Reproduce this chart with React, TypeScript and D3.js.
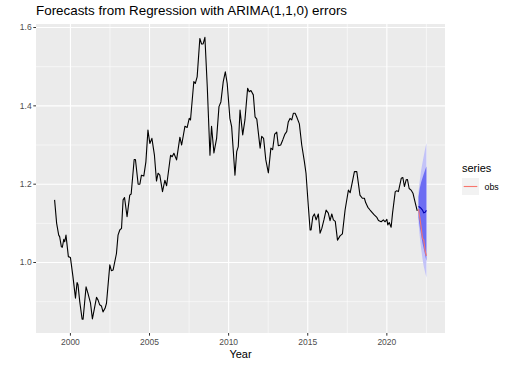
import React from "react";
import * as d3 from "d3";

const histTime = [
  1999.0, 1999.13, 1999.26, 1999.32, 1999.43, 1999.49, 1999.58, 1999.64, 1999.72, 1999.87,
  2000.0, 2000.16, 2000.32, 2000.42, 2000.48, 2000.59, 2000.74, 2000.8, 2000.99, 2001.11,
  2001.27, 2001.39, 2001.5, 2001.65, 2001.75, 2001.85, 2001.96, 2002.06, 2002.19, 2002.28,
  2002.49, 2002.59, 2002.7, 2002.91, 2003.01, 2003.12, 2003.23, 2003.33, 2003.42, 2003.58,
  2003.75, 2003.84, 2004.03, 2004.11, 2004.28, 2004.39, 2004.49, 2004.64, 2004.77, 2004.9,
  2005.02, 2005.15, 2005.31, 2005.44, 2005.54, 2005.65, 2005.82, 2005.97, 2006.08, 2006.33,
  2006.43, 2006.54, 2006.71, 2006.92, 2007.03, 2007.24, 2007.38, 2007.51, 2007.59, 2007.8,
  2007.89, 2008.01, 2008.18, 2008.29, 2008.39, 2008.5, 2008.65, 2008.82, 2008.92, 2009.07,
  2009.24, 2009.39, 2009.51, 2009.66, 2009.79, 2009.91, 2010.08, 2010.19, 2010.4, 2010.51,
  2010.61, 2010.72, 2010.89, 2011.03, 2011.2, 2011.3, 2011.41, 2011.56, 2011.67, 2011.78,
  2011.99, 2012.09, 2012.21, 2012.35, 2012.51, 2012.67, 2012.78, 2012.91, 2013.04, 2013.14,
  2013.29, 2013.42, 2013.56, 2013.67, 2013.77, 2013.88, 2013.99, 2014.09, 2014.2, 2014.3,
  2014.47, 2014.62, 2014.79, 2014.89, 2015.04, 2015.15, 2015.21, 2015.32, 2015.42, 2015.53,
  2015.67, 2015.78, 2015.89, 2016.03, 2016.16, 2016.3, 2016.41, 2016.52, 2016.62, 2016.74,
  2016.88, 2017.04, 2017.19, 2017.36, 2017.57, 2017.68, 2017.82, 2017.95, 2018.1, 2018.2,
  2018.3, 2018.45, 2018.58, 2018.66, 2018.8, 2018.94, 2019.09, 2019.22, 2019.37, 2019.47,
  2019.64, 2019.78, 2019.89, 2020.0, 2020.06, 2020.15, 2020.27, 2020.36, 2020.53, 2020.63,
  2020.73, 2020.91, 2021.01, 2021.11, 2021.22, 2021.3, 2021.41, 2021.53, 2021.65, 2021.75,
  2021.92,
];
const histValue = [
  1.16, 1.1, 1.07, 1.066, 1.04, 1.039, 1.059, 1.053, 1.07, 1.015,
  1.013, 0.964, 0.909, 0.949, 0.943, 0.9, 0.855, 0.855, 0.938, 0.921,
  0.896, 0.856, 0.879, 0.911, 0.904, 0.892, 0.889, 0.874, 0.883, 0.896,
  0.994, 0.979, 0.981, 1.023, 1.07, 1.083, 1.087, 1.16, 1.166, 1.117,
  1.172, 1.175, 1.263, 1.263, 1.2, 1.2, 1.223, 1.221, 1.257, 1.338,
  1.304, 1.317, 1.274, 1.208, 1.228, 1.223, 1.181, 1.21, 1.196, 1.274,
  1.27, 1.279, 1.262, 1.32, 1.3, 1.348, 1.345, 1.368, 1.364, 1.462,
  1.457, 1.474, 1.572, 1.558, 1.558, 1.575, 1.449, 1.274, 1.348, 1.28,
  1.317, 1.398, 1.41, 1.462, 1.487, 1.457, 1.368, 1.347, 1.223, 1.283,
  1.296, 1.389, 1.326, 1.364, 1.445, 1.436, 1.439, 1.428, 1.372, 1.366,
  1.292, 1.322, 1.317, 1.262, 1.229, 1.292, 1.288, 1.328, 1.333, 1.298,
  1.3, 1.313, 1.328, 1.334, 1.359, 1.368, 1.364, 1.381, 1.381, 1.372,
  1.354, 1.3, 1.257, 1.228, 1.142, 1.083, 1.083, 1.117, 1.124, 1.109,
  1.124, 1.075, 1.087, 1.11, 1.134, 1.126, 1.107, 1.124, 1.109, 1.105,
  1.057, 1.068, 1.073, 1.134, 1.185, 1.178, 1.206, 1.232, 1.232, 1.202,
  1.172, 1.164, 1.164, 1.153, 1.141, 1.134, 1.127, 1.121, 1.115, 1.107,
  1.104, 1.109, 1.104, 1.11, 1.096, 1.102, 1.09, 1.126, 1.181, 1.183,
  1.181, 1.215, 1.217, 1.194, 1.211, 1.212, 1.189, 1.185, 1.177, 1.16,
  1.132,
];

const fcTime = [2022.0, 2022.083, 2022.167, 2022.25, 2022.333, 2022.417, 2022.5];
const fcMean = [1.143, 1.141, 1.138, 1.134, 1.127, 1.128, 1.133];
const fcLo80 = [1.115, 1.09, 1.07, 1.05, 1.035, 1.02, 1.004];
const fcHi80 = [1.168, 1.19, 1.205, 1.216, 1.226, 1.236, 1.245];
const fcLo95 = [1.1, 1.065, 1.035, 1.01, 0.99, 0.975, 0.962];
const fcHi95 = [1.18, 1.21, 1.235, 1.255, 1.272, 1.29, 1.305];
const obsValue = [1.136, 1.115, 1.09, 1.062, 1.057, 1.03, 1.017];

const xTicks = [2000, 2005, 2010, 2015, 2020];
const xMinor = [2002.5, 2007.5, 2012.5, 2017.5, 2022.5];
const yTicks = [1.0, 1.2, 1.4, 1.6];
const yMinor = [0.9, 1.1, 1.3, 1.5];

const titleText = "Forecasts from Regression with ARIMA(1,1,0) errors";
const xTitle = "Year";
const legendTitle = "series";
const legendLabels = ["obs"];

export default function App() {
  const W = 511, H = 366;
  const left = 36, right = 445, top = 24, bottom = 333;
  const x = d3.scaleLinear().domain([1997.825, 2023.675]).range([left, right]);
  const y = d3.scaleLinear().domain([0.82, 1.609]).range([bottom, top]);

  const hist = histTime.map((t, i) => [t, histValue[i]] as [number, number]);
  const lineGen = d3.line<[number, number]>().x((d) => x(d[0])).y((d) => y(d[1]));
  const band95 = d3
    .area<number>()
    .x((_, i) => x(fcTime[i]))
    .y0((_, i) => y(fcLo95[i]))
    .y1((_, i) => y(fcHi95[i]))(fcTime);
  const band80 = d3
    .area<number>()
    .x((_, i) => x(fcTime[i]))
    .y0((_, i) => y(fcLo80[i]))
    .y1((_, i) => y(fcHi80[i]))(fcTime);
  const meanPath = lineGen(fcTime.map((t, i) => [t, fcMean[i]] as [number, number]));
  const obsPath = lineGen(fcTime.map((t, i) => [t, obsValue[i]] as [number, number]));

  const font = "Liberation Sans, Arial, Helvetica, sans-serif";

  return (
    <svg
      width={W}
      height={H}
      style={{ position: "absolute", left: 0, top: 0, background: "#fff" }}
      fontFamily={font}
    >
      <rect x={left} y={top} width={right - left} height={bottom - top} fill="#EBEBEB" />
      {yMinor.map((v) => (
        <line key={"ym" + v} x1={left} x2={right} y1={y(v)} y2={y(v)} stroke="#fff" strokeWidth={0.55} />
      ))}
      {xMinor.map((v) => (
        <line key={"xm" + v} y1={top} y2={bottom} x1={x(v)} x2={x(v)} stroke="#fff" strokeWidth={0.55} />
      ))}
      {yTicks.map((v) => (
        <line key={"yM" + v} x1={left} x2={right} y1={y(v)} y2={y(v)} stroke="#fff" strokeWidth={1.1} />
      ))}
      {xTicks.map((v) => (
        <line key={"xM" + v} y1={top} y2={bottom} x1={x(v)} x2={x(v)} stroke="#fff" strokeWidth={1.1} />
      ))}

      <path d={band95 || ""} fill="#C3C3F8" />
      <path d={band80 || ""} fill="#6D6DF3" />
      <path d={lineGen(hist) || ""} fill="none" stroke="#000" strokeWidth={1.1} strokeLinejoin="round" />
      <path d={meanPath || ""} fill="none" stroke="#0000B0" strokeWidth={1.1} />
      <path d={obsPath || ""} fill="none" stroke="#F8766D" strokeWidth={1.1} />

      {yTicks.map((v) => (
        <g key={"yt" + v}>
          <line x1={left - 2.7} x2={left} y1={y(v)} y2={y(v)} stroke="#333" strokeWidth={1} />
          <text x={left - 4.3} y={y(v)} dy="0.35em" textAnchor="end" fontSize={8.5} fill="#4D4D4D">
            {d3.format(".1f")(v)}
          </text>
        </g>
      ))}
      {xTicks.map((v) => (
        <g key={"xt" + v}>
          <line y1={bottom} y2={bottom + 2.7} x1={x(v)} x2={x(v)} stroke="#333" strokeWidth={1} />
          <text x={x(v)} y={bottom + 12} textAnchor="middle" fontSize={8.5} fill="#4D4D4D">
            {v}
          </text>
        </g>
      ))}
      <text x={(left + right) / 2} y={358} textAnchor="middle" fontSize={11} fill="#000">
        {xTitle}
      </text>
      <text x={left} y={15} fontSize={13.4} fill="#000">
        {titleText}
      </text>

      <text x={462} y={172} fontSize={11} fill="#000">
        {legendTitle}
      </text>
      {legendLabels.map((lab, i) => (
        <g key={lab}>
          <rect x={462} y={178 + i * 17} width={17} height={17} fill="#F2F2F2" />
          <line x1={463.7} x2={477.3} y1={186.5 + i * 17} y2={186.5 + i * 17} stroke="#F8766D" strokeWidth={1.1} />
          <text x={484.5} y={186.5 + i * 17} dy="0.35em" fontSize={8.8} fill="#000">
            {lab}
          </text>
        </g>
      ))}
    </svg>
  );
}
